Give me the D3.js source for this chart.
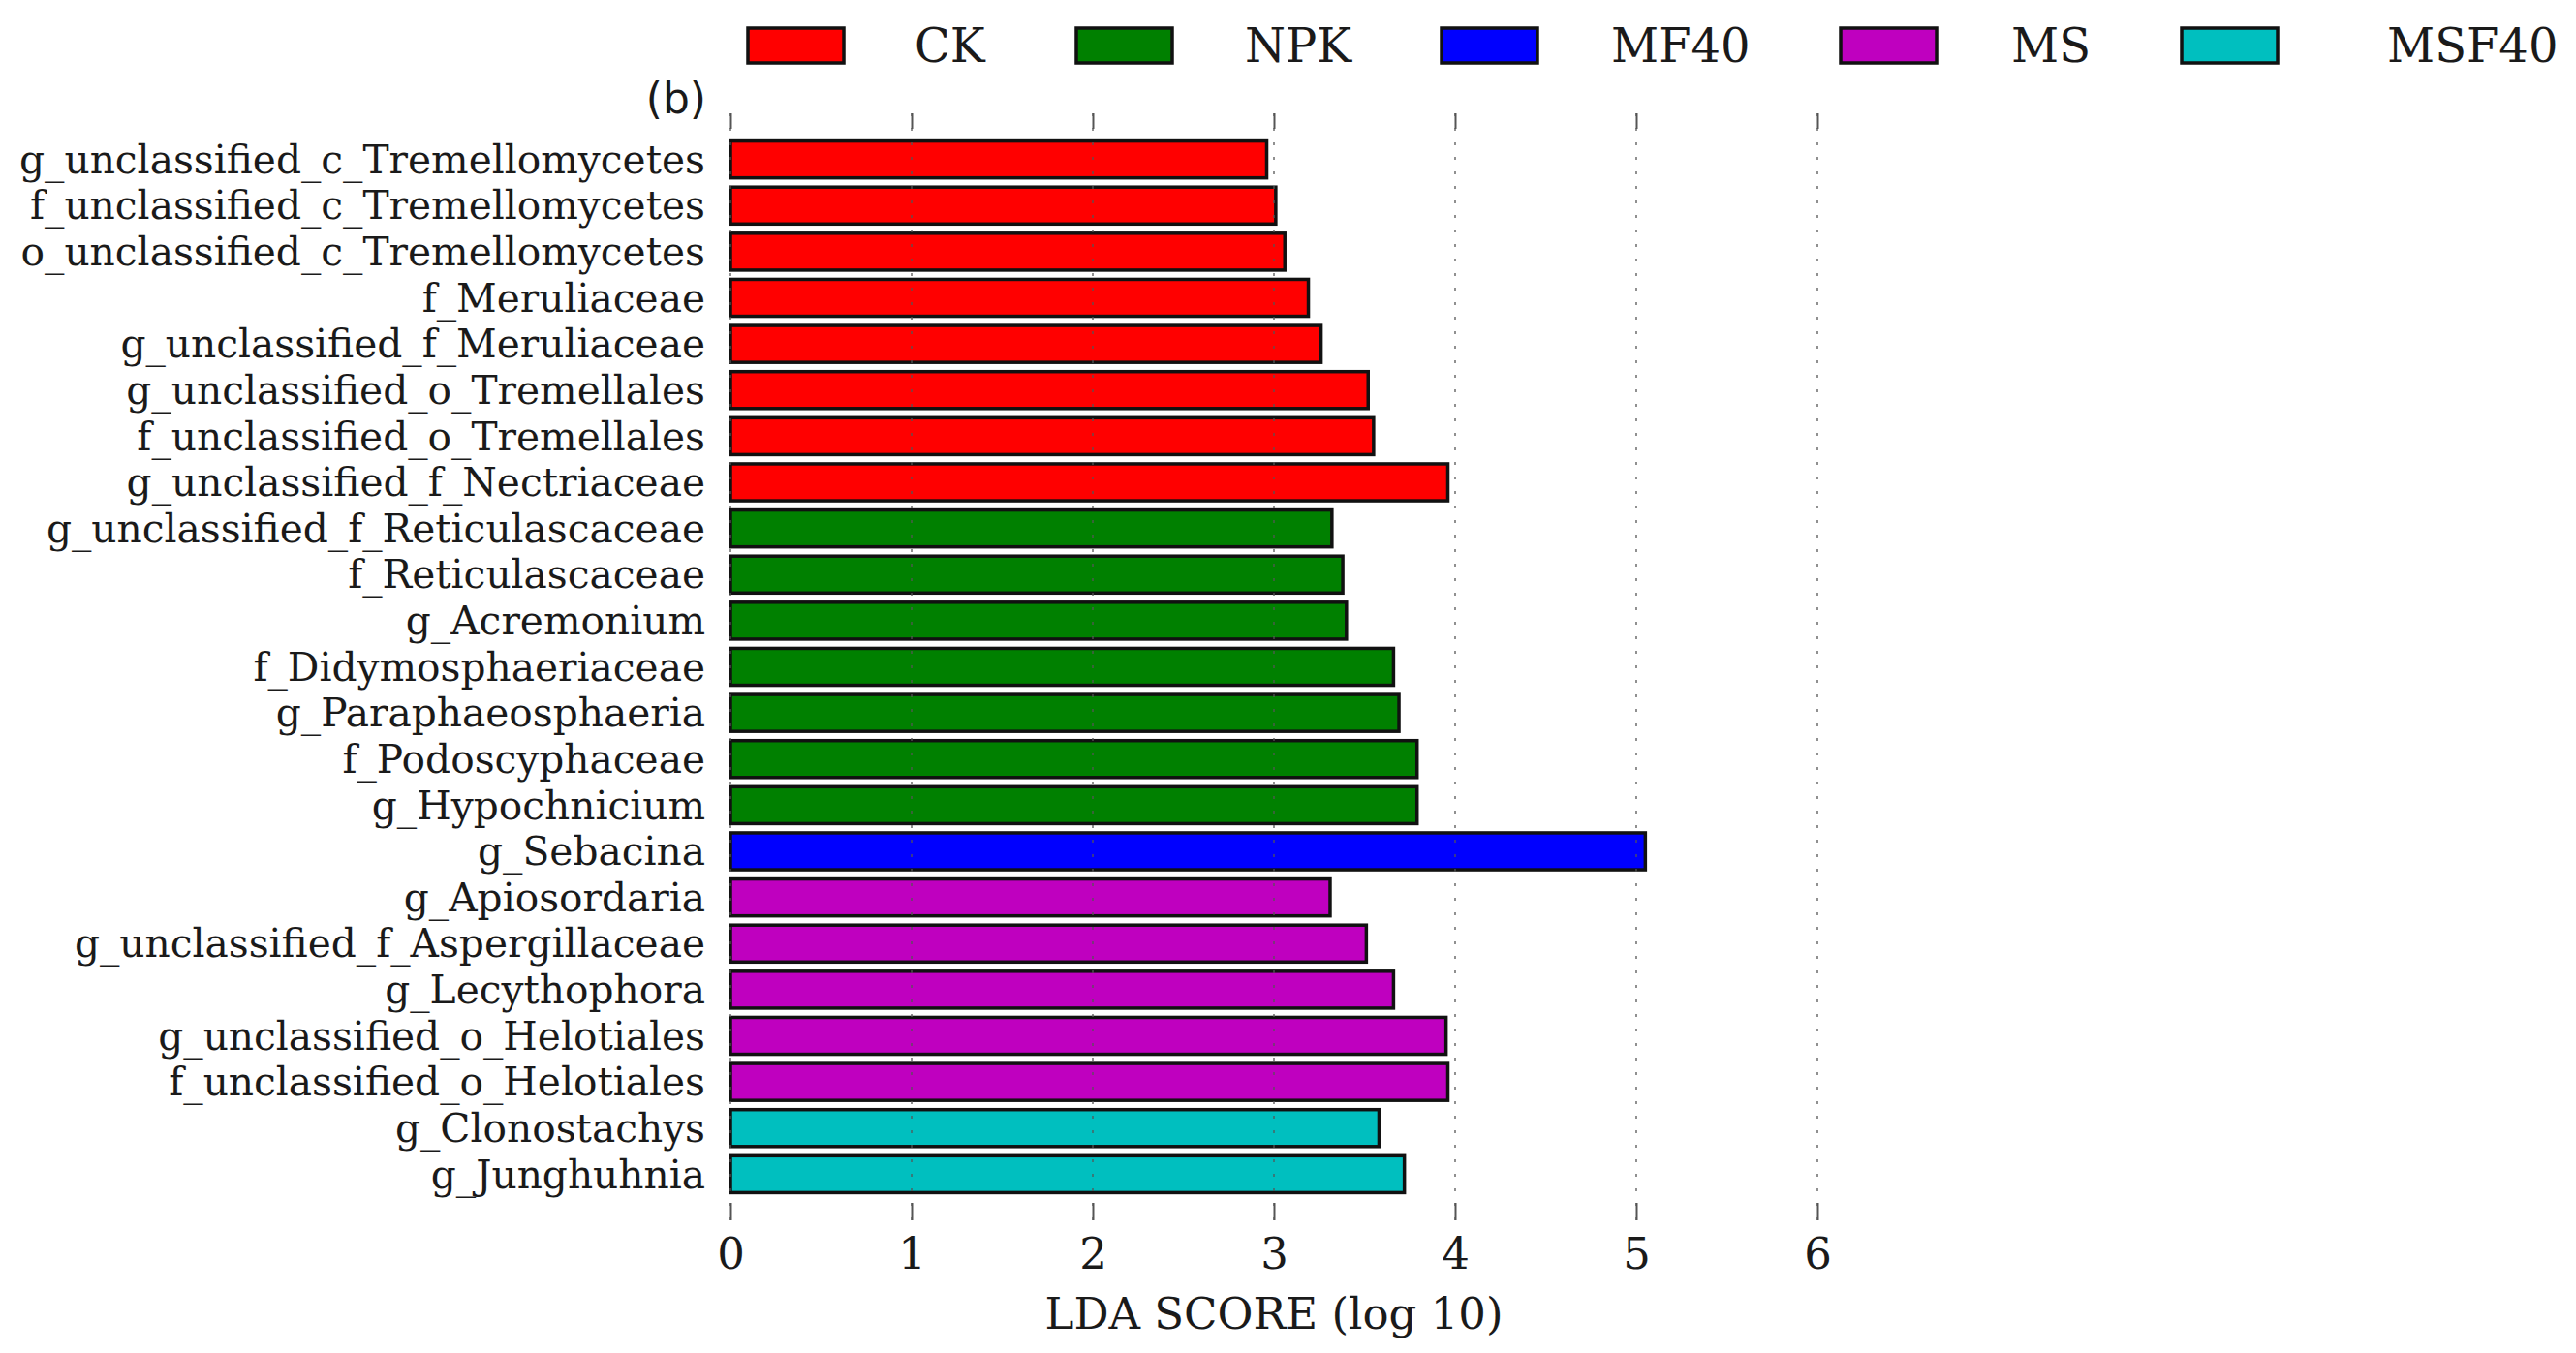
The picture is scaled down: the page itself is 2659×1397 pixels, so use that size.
<!DOCTYPE html>
<html>
<head>
  <meta charset="utf-8">
  <title>LEfSe LDA</title>
  <script src="https://cdn.jsdelivr.net/npm/d3@7"></script>
  <style>
    body { margin: 0; background: #fff; }
    text { fill: #1a1a1a; }
  </style>
</head>
<body>
  <script>
    // groups and colours
    const classNames = ["CK", "NPK", "MF40", "MS", "MSF40"];
    const classColors = ["#ff0000", "#008000", "#0000ff", "#bf00bf", "#00bfbf"];

    // features, top to bottom
    const features = [
      "g_unclassified_c_Tremellomycetes",
      "f_unclassified_c_Tremellomycetes",
      "o_unclassified_c_Tremellomycetes",
      "f_Meruliaceae",
      "g_unclassified_f_Meruliaceae",
      "g_unclassified_o_Tremellales",
      "f_unclassified_o_Tremellales",
      "g_unclassified_f_Nectriaceae",
      "g_unclassified_f_Reticulascaceae",
      "f_Reticulascaceae",
      "g_Acremonium",
      "f_Didymosphaeriaceae",
      "g_Paraphaeosphaeria",
      "f_Podoscyphaceae",
      "g_Hypochnicium",
      "g_Sebacina",
      "g_Apiosordaria",
      "g_unclassified_f_Aspergillaceae",
      "g_Lecythophora",
      "g_unclassified_o_Helotiales",
      "f_unclassified_o_Helotiales",
      "g_Clonostachys",
      "g_Junghuhnia"
    ];
    const featureClass = [
      "CK", "CK", "CK", "CK", "CK", "CK", "CK", "CK",
      "NPK", "NPK", "NPK", "NPK", "NPK", "NPK", "NPK",
      "MF40",
      "MS", "MS", "MS", "MS", "MS",
      "MSF40", "MSF40"
    ];
    const scores = [
      2.96, 3.01, 3.06, 3.19, 3.26, 3.52, 3.55, 3.96,
      3.32, 3.38, 3.40, 3.66, 3.69, 3.79, 3.79,
      5.05,
      3.31, 3.51, 3.66, 3.95, 3.96,
      3.58, 3.72
    ];
    const xTicks = [0, 1, 2, 3, 4, 5, 6];

    const W = 2659, H = 1397;
    const plotL = 754, plotR = 1876, plotT = 117, plotB = 1260;

    const svg = d3.select("body").append("svg")
      .attr("width", W)
      .attr("height", H);

    svg.append("rect").attr("width", W).attr("height", H).attr("fill", "#fff");

    const x = d3.scaleLinear().domain([0, 6]).range([plotL, plotR]);
    // one extra row above and below the bars
    const y = d3.scaleLinear().domain([-1, features.length]).range([plotT, plotB]);
    const rowH = y(1) - y(0);
    const color = d3.scaleOrdinal().domain(classNames).range(classColors);

    // bars
    svg.append("g").selectAll("rect")
      .data(scores)
      .enter()
      .append("rect")
      .attr("x", x(0))
      .attr("y", function (d, i) { return y(i) - rowH * 0.4; })
      .attr("width", function (d) { return x(d) - x(0); })
      .attr("height", rowH * 0.8)
      .attr("fill", function (d, i) { return color(featureClass[i]); })
      .attr("stroke", "#111")
      .attr("stroke-width", 3.5);

    // dotted grid over the bars
    svg.append("g").selectAll("line")
      .data(xTicks)
      .enter()
      .append("line")
      .attr("x1", function (d) { return x(d); })
      .attr("x2", function (d) { return x(d); })
      .attr("y1", plotT)
      .attr("y2", plotB)
      .attr("stroke", "#555")
      .attr("stroke-opacity", 0.65)
      .attr("stroke-width", 2)
      .attr("stroke-dasharray", "3,12");

    // bottom axis, ticks pointing in
    const gx = svg.append("g")
      .attr("transform", "translate(0," + plotB + ")")
      .call(d3.axisBottom(x).tickValues(xTicks).tickFormat(d3.format("d")).tickSize(-18).tickPadding(18));
    gx.select(".domain").remove();
    gx.selectAll("line").attr("stroke", "#555").attr("stroke-width", 2);
    gx.selectAll("text")
      .attr("font-family", "DejaVu Serif")
      .attr("font-size", 45)
      .style("fill", "#1a1a1a");

    // top axis, ticks only
    const gt = svg.append("g")
      .attr("transform", "translate(0," + plotT + ")")
      .call(d3.axisTop(x).tickValues(xTicks).tickFormat("").tickSize(-16));
    gt.select(".domain").remove();
    gt.selectAll("line").attr("stroke", "#555").attr("stroke-width", 2);

    // feature labels
    svg.append("g").selectAll("text")
      .data(features)
      .enter()
      .append("text")
      .attr("x", x(0) - 26)
      .attr("y", function (d, i) { return y(i); })
      .attr("dy", "0.35em")
      .attr("text-anchor", "end")
      .attr("font-family", "DejaVu Serif")
      .attr("font-size", 40.7)
      .text(function (d) { return d; });

    // x label
    svg.append("text")
      .attr("x", (x(0) + x(6)) / 2)
      .attr("y", 1372)
      .attr("text-anchor", "middle")
      .attr("font-family", "DejaVu Serif")
      .attr("font-size", 45)
      .text("LDA SCORE (log 10)");

    // panel tag
    svg.append("text")
      .attr("x", 729)
      .attr("y", 117)
      .attr("text-anchor", "end")
      .attr("font-family", "DejaVu Sans")
      .attr("font-size", 44)
      .text("(b)");

    // legend
    const legendBoxX = [772, 1111, 1488, 1900, 2252];
    const legendTextX = [944, 1285, 1663, 2076, 2464];
    const lg = svg.append("g");
    lg.selectAll("rect")
      .data(classNames)
      .enter()
      .append("rect")
      .attr("x", function (d, i) { return legendBoxX[i]; })
      .attr("y", 29)
      .attr("width", 99)
      .attr("height", 36)
      .attr("fill", function (d) { return color(d); })
      .attr("stroke", "#111")
      .attr("stroke-width", 3.5);
    lg.selectAll("text")
      .data(classNames)
      .enter()
      .append("text")
      .attr("x", function (d, i) { return legendTextX[i]; })
      .attr("y", 64)
      .attr("font-family", "DejaVu Serif")
      .attr("font-size", 48)
      .text(function (d) { return d; });
  </script>
</body>
</html>
